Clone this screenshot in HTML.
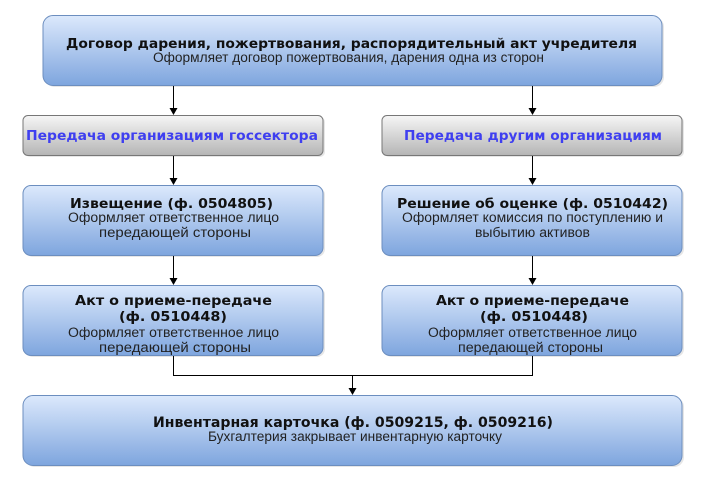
<!DOCTYPE html>
<html><head><meta charset="utf-8">
<style>
html,body{margin:0;padding:0;background:#fff;}
svg{display:block;}
.t{font-family:"DejaVu Sans","Liberation Sans",sans-serif;font-weight:bold;font-size:13px;fill:#111;}
.s{font-family:"Liberation Sans",sans-serif;font-size:13.5px;fill:#222;}
.g{font-family:"DejaVu Sans","Liberation Sans",sans-serif;font-weight:bold;font-size:13px;fill:#3f3ff0;}
.b{font-family:"DejaVu Sans","Liberation Sans",sans-serif;font-weight:bold;font-size:14.5px;fill:#111;}
</style></head>
<body>
<svg width="703" height="484" viewBox="0 0 703 484" xmlns="http://www.w3.org/2000/svg">
<defs>
<linearGradient id="bl" x1="0" y1="0" x2="0" y2="1">
<stop offset="0" stop-color="#dce9fc"/><stop offset="1" stop-color="#7ea5de"/>
</linearGradient>
<linearGradient id="gr" x1="0" y1="0" x2="0" y2="1">
<stop offset="0" stop-color="#f6f6f6"/><stop offset="1" stop-color="#b5b5b5"/>
</linearGradient>
</defs>
<!-- shadows -->
<g fill="#e6e6e6">
<rect x="45" y="17" width="619" height="70" rx="10"/>
<rect x="25" y="117" width="300" height="40" rx="5"/>
<rect x="384" y="117" width="300" height="40" rx="5"/>
<rect x="25" y="187" width="300" height="70" rx="8"/>
<rect x="384" y="187" width="300" height="70" rx="8"/>
<rect x="25" y="287" width="300" height="70" rx="8"/>
<rect x="384" y="287" width="300" height="70" rx="8"/>
<rect x="25" y="397" width="659" height="70" rx="10"/>
</g>
<!-- boxes -->
<rect x="43" y="15.5" width="619" height="70" rx="10" fill="url(#bl)" stroke="#6c8ebf"/>
<rect x="23" y="115.5" width="300" height="40" rx="5" fill="url(#gr)" stroke="#777"/>
<rect x="382" y="115.5" width="300" height="40" rx="5" fill="url(#gr)" stroke="#777"/>
<rect x="23" y="185.5" width="300" height="70" rx="8" fill="url(#bl)" stroke="#6c8ebf"/>
<rect x="382" y="185.5" width="300" height="70" rx="8" fill="url(#bl)" stroke="#6c8ebf"/>
<rect x="23" y="285.5" width="300" height="70" rx="8" fill="url(#bl)" stroke="#6c8ebf"/>
<rect x="382" y="285.5" width="300" height="70" rx="8" fill="url(#bl)" stroke="#6c8ebf"/>
<rect x="23" y="395.5" width="659" height="70" rx="10" fill="url(#bl)" stroke="#6c8ebf"/>
<!-- connectors -->
<g stroke="#000" stroke-width="1" fill="none">
<path d="M173.5 86 V109"/><path d="M532.5 86 V109"/>
<path d="M173.5 156 V179"/><path d="M532.5 156 V179"/>
<path d="M173.5 256 V279"/><path d="M532.5 256 V279"/>
<path d="M173.5 356 V375.5 H532.5 V356"/>
<path d="M352.5 375.5 V389"/>
</g>
<g fill="#000">
<path d="M169.5 108 L177.5 108 L173.5 115 Z"/>
<path d="M528.5 108 L536.5 108 L532.5 115 Z"/>
<path d="M169.5 178 L177.5 178 L173.5 185 Z"/>
<path d="M528.5 178 L536.5 178 L532.5 185 Z"/>
<path d="M169.5 278 L177.5 278 L173.5 285 Z"/>
<path d="M528.5 278 L536.5 278 L532.5 285 Z"/>
<path d="M348.5 388 L356.5 388 L352.5 395 Z"/>
</g>
<!-- text -->
<text class="t" x="66" y="48" textLength="571" lengthAdjust="spacingAndGlyphs">Договор дарения, пожертвования, распорядительный акт учредителя</text>
<text class="s" x="153" y="62" textLength="391" lengthAdjust="spacingAndGlyphs">Оформляет договор пожертвования, дарения одна из сторон</text>

<text class="g" x="26" y="140" textLength="292" lengthAdjust="spacingAndGlyphs">Передача организациям госсектора</text>
<text class="g" x="404" y="140" textLength="258" lengthAdjust="spacingAndGlyphs">Передача другим организациям</text>

<text class="t" x="70" y="208" textLength="203" lengthAdjust="spacingAndGlyphs">Извещение (ф. 0504805)</text>
<text class="s" x="68" y="222" textLength="211" lengthAdjust="spacingAndGlyphs">Оформляет ответственное лицо</text>
<text class="s" x="99" y="237" textLength="152" lengthAdjust="spacingAndGlyphs">передающей стороны</text>

<text class="t" x="397" y="208" textLength="271" lengthAdjust="spacingAndGlyphs">Решение об оценке (ф. 0510442)</text>
<text class="s" x="402" y="222" textLength="261" lengthAdjust="spacingAndGlyphs">Оформляет комиссия по поступлению и</text>
<text class="s" x="475" y="237" textLength="115" lengthAdjust="spacingAndGlyphs">выбытию активов</text>

<text class="t" x="75" y="305" textLength="197" lengthAdjust="spacingAndGlyphs">Акт о приеме-передаче</text>
<text class="t" x="119" y="321" textLength="108" lengthAdjust="spacingAndGlyphs">(ф. 0510448)</text>
<text class="s" x="68" y="337" textLength="211" lengthAdjust="spacingAndGlyphs">Оформляет ответственное лицо</text>
<text class="s" x="99" y="352" textLength="152" lengthAdjust="spacingAndGlyphs">передающей стороны</text>

<text class="t" x="436" y="305" textLength="193" lengthAdjust="spacingAndGlyphs">Акт о приеме-передаче</text>
<text class="t" x="480" y="321" textLength="108" lengthAdjust="spacingAndGlyphs">(ф. 0510448)</text>
<text class="s" x="428" y="337" textLength="209" lengthAdjust="spacingAndGlyphs">Оформляет ответственное лицо</text>
<text class="s" x="458" y="352" textLength="145" lengthAdjust="spacingAndGlyphs">передающей стороны</text>

<text class="b" x="153" y="427" textLength="400" lengthAdjust="spacingAndGlyphs">Инвентарная карточка (ф. 0509215, ф. 0509216)</text>
<text class="s" x="208" y="441" textLength="294" lengthAdjust="spacingAndGlyphs">Бухгалтерия закрывает инвентарную карточку</text>
</svg>
</body></html>
